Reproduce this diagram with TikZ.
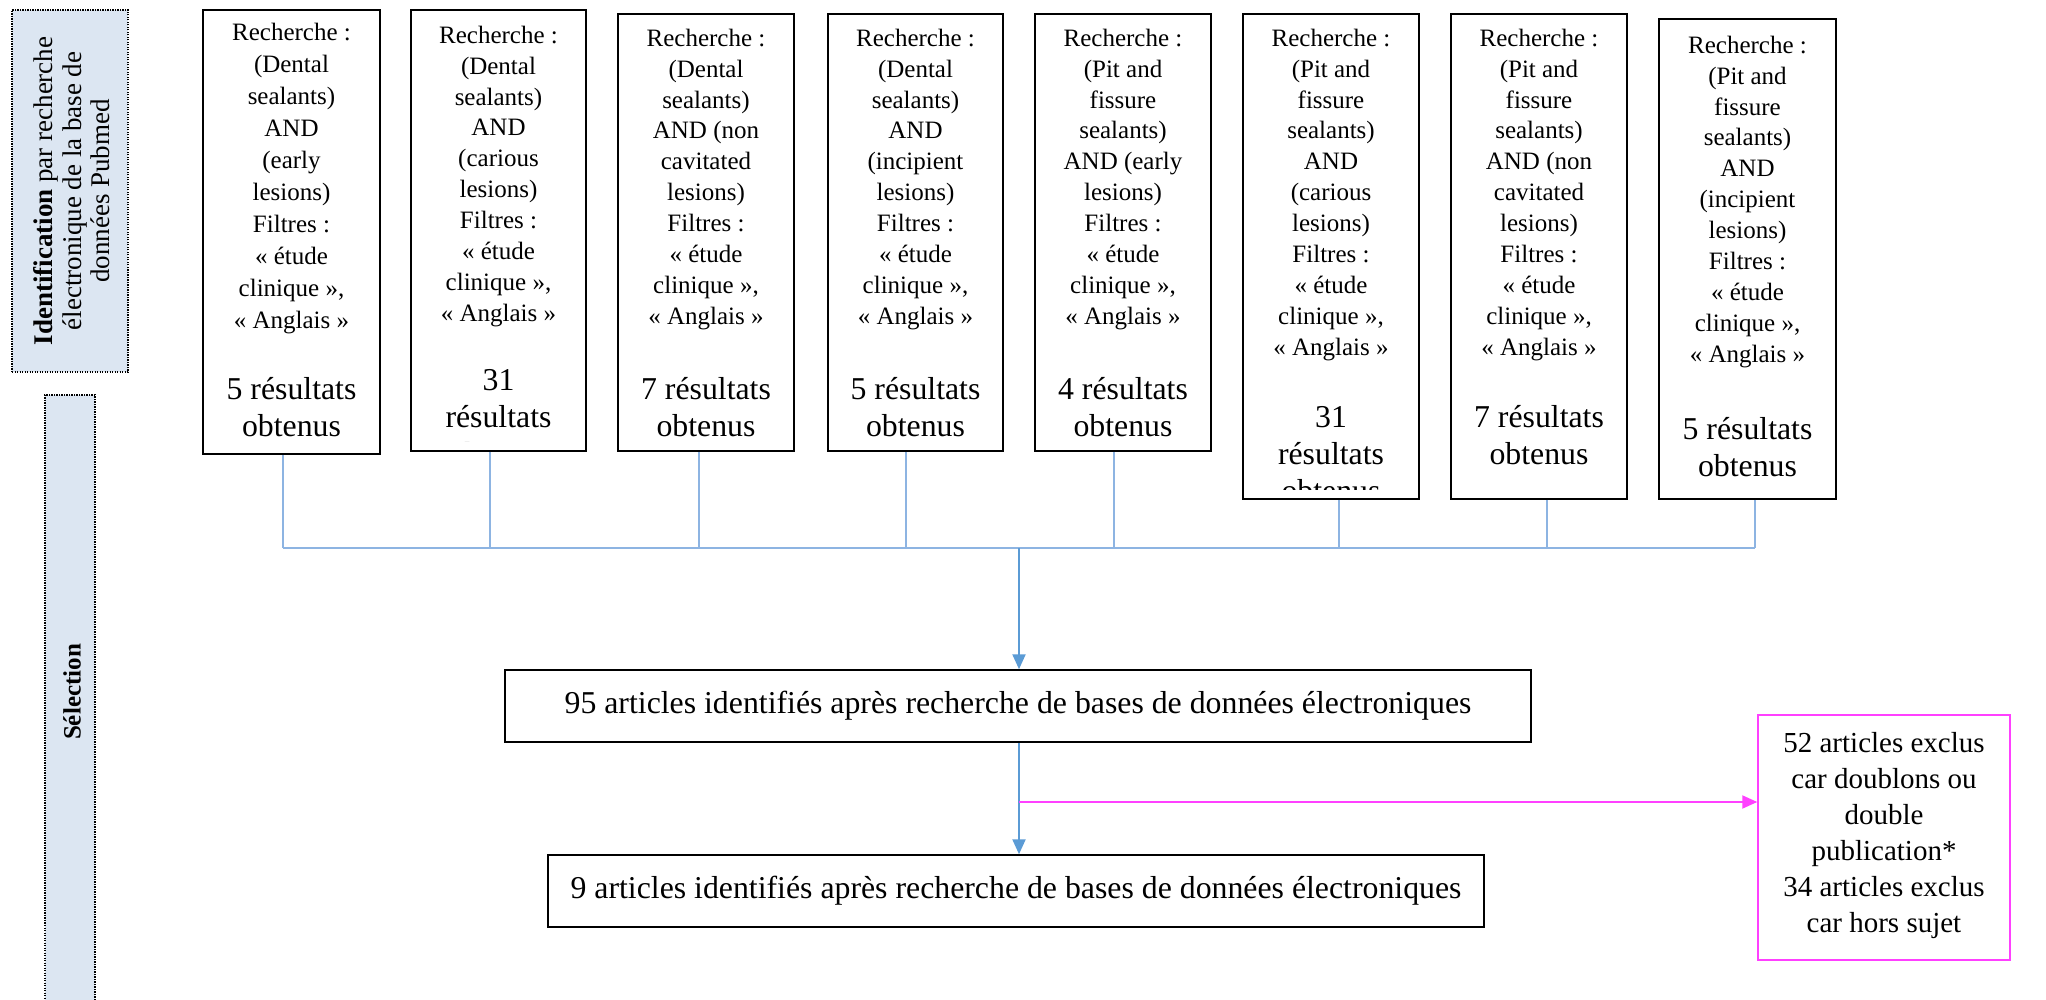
\documentclass[tikz,border=0pt]{standalone}
\usepackage{fontspec}
\setmainfont{Liberation Serif}
\usetikzlibrary{arrows.meta}
\definecolor{sidefill}{HTML}{DCE6F2}
\definecolor{lightcon}{HTML}{8DB4E2}
\definecolor{maincon}{HTML}{5B9BD5}
\definecolor{pinkc}{HTML}{FF40FF}
\tikzset{
  sbox/.style={draw=black, line width=1.5pt, inner sep=0pt, rectangle},
  smalltxt/.style={font=\fontsize{25}{30.9}\selectfont, align=center, inner sep=0pt},
  bigtxt/.style={font=\fontsize{31.8}{36.7}\selectfont, align=center, inner sep=0pt},
  sidebar/.style={draw=black, fill=sidefill, line width=1.2pt, dash pattern=on 1.4pt off 1.1pt, inner sep=0pt},
  conn/.style={draw=lightcon, line width=1.3pt},
  mainarr/.style={draw=maincon, line width=2.2pt, -{Triangle[length=15pt,width=13pt]}},
  pinkarr/.style={draw=pinkc, line width=2pt, -{Triangle[length=15pt,width=13pt]}},
  pinkbox/.style={draw=pinkc, line width=1.5pt, inner sep=0pt, rectangle},
}
% name, left, right, top, bottom, small-text top, big-text top, small text, big text
\newcommand\mkbox[9]{%
  \begin{scope}
    \clip (#2+2,#4+2) rectangle (#3-2,#5-10);
    \node[smalltxt, anchor=north] (#1s) at ({(#2+#3)/2},#6) {\strut #8};
    \node[bigtxt, anchor=north] (#1g) at ({(#2+#3)/2},#7) {\strut #9};
  \end{scope}
  \node[sbox, minimum width={#3-#2}, minimum height={#5-#4}] (#1) at ({(#2+#3)/2},{(#4+#5)/2}) {};
}
\begin{document}
\begin{tikzpicture}[x=1pt, y=-1pt]
\useasboundingbox (0,0) rectangle (2046,1000);
\fill[white] (0,0) rectangle (2046,1000);

% side bars
\node[sidebar, minimum width=116pt, minimum height=362pt] (ident) at (70,191) {};
\node[font=\fontsize{27}{28.5}\selectfont, align=center, rotate=90, inner sep=0pt] (identt) at (72,191)
  {\textbf{Identification} par recherche\\électronique de la base de\\données Pubmed};
\node[sidebar, minimum width=50pt, minimum height=640pt] (sel) at (70,715) {};
\node[font=\fontsize{25}{28}\selectfont\bfseries, rotate=90, inner sep=0pt] (selt) at (72,692) {Sélection};

% search boxes
\begin{scope}
\tikzset{smalltxt/.append style={font=\fontsize{25}{32}\selectfont}}
\mkbox{b1}{203}{380}{10}{454}{17.5}{374}
  {Recherche :\\(Dental\\sealants)\\AND\\(early\\lesions)\\Filtres :\\« étude\\clinique »,\\« Anglais »}
  {5 résultats\\obtenus}
\end{scope}
\mkbox{b2}{411}{586}{10}{451}{21.4}{365}
  {Recherche :\\(Dental\\sealants)\\AND\\(carious\\lesions)\\Filtres :\\« étude\\clinique »,\\« Anglais »}
  {31\\résultats\\obtenus}
\mkbox{b3}{618}{794}{14}{451}{24.4}{374}
  {Recherche :\\(Dental\\sealants)\\AND (non\\cavitated\\lesions)\\Filtres :\\« étude\\clinique »,\\« Anglais »}
  {7 résultats\\obtenus}
\mkbox{b4}{828}{1003}{14}{451}{24.4}{374}
  {Recherche :\\(Dental\\sealants)\\AND\\(incipient\\lesions)\\Filtres :\\« étude\\clinique »,\\« Anglais »}
  {5 résultats\\obtenus}
\mkbox{b5}{1035}{1211}{14}{451}{24.4}{374}
  {Recherche :\\(Pit and\\fissure\\sealants)\\AND (early\\lesions)\\Filtres :\\« étude\\clinique »,\\« Anglais »}
  {4 résultats\\obtenus}
\mkbox{b6}{1243}{1419}{14}{499}{24.4}{402}
  {Recherche :\\(Pit and\\fissure\\sealants)\\AND\\(carious\\lesions)\\Filtres :\\« étude\\clinique »,\\« Anglais »}
  {31\\résultats\\obtenus}
\mkbox{b7}{1451}{1627}{14}{499}{24.4}{402}
  {Recherche :\\(Pit and\\fissure\\sealants)\\AND (non\\cavitated\\lesions)\\Filtres :\\« étude\\clinique »,\\« Anglais »}
  {7 résultats\\obtenus}
\mkbox{b8}{1659}{1836}{19}{499}{31.4}{414}
  {Recherche :\\(Pit and\\fissure\\sealants)\\AND\\(incipient\\lesions)\\Filtres :\\« étude\\clinique »,\\« Anglais »}
  {5 résultats\\obtenus}

% result boxes
\node[sbox, minimum width=1026pt, minimum height=72pt, font=\fontsize{31.8}{36.7}\selectfont] (n95) at (1018,706)
  {\raisebox{4pt}{95 articles identifiés après recherche de bases de données électroniques}};
\node[sbox, minimum width=936pt, minimum height=72pt, font=\fontsize{31.8}{36.7}\selectfont] (n9) at (1016,891)
  {\raisebox{4pt}{9 articles identifiés après recherche de bases de données électroniques}};
\node[pinkbox, minimum width=252pt, minimum height=245pt] (pk) at (1884,837.5) {};
\node[font=\fontsize{29}{36}\selectfont, align=center, inner sep=0pt] (pkt) at (1884,836)
  {52 articles exclus\\car doublons ou\\double\\publication*\\34 articles exclus\\car hors sujet};

% connectors
\coordinate (j1) at (283,548);
\coordinate (j2) at (490,548);
\coordinate (j3) at (699,548);
\coordinate (j4) at (906,548);
\coordinate (j5) at (1114,548);
\coordinate (j6) at (1339,548);
\coordinate (j7) at (1547,548);
\coordinate (j8) at (1755,548);
\foreach \i in {1,...,8} { \draw[conn] (b\i.south -| j\i) -- (j\i); }
\draw[conn, line width=1.6pt] (j1) -- (j8);
\coordinate (jm) at (1019,548);
\draw[mainarr] (jm) -- (jm |- n95.north);
\draw[mainarr] (jm |- n95.south) -- (jm |- n9.north);
\coordinate (jp) at (1019,802);
\draw[pinkarr] (jp) -- (jp -| pk.west);
\end{tikzpicture}
\end{document}
